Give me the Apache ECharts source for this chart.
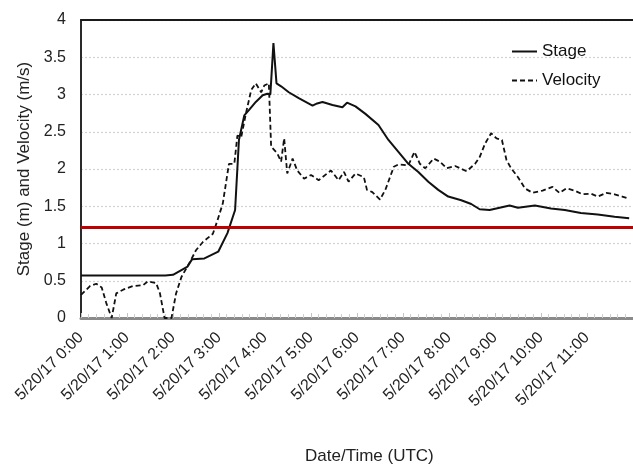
<!DOCTYPE html>
<html>
<head>
<meta charset="utf-8">
<script src="https://cdn.jsdelivr.net/npm/echarts@6/dist/echarts.min.js"></script>
<style>
  html, body { margin: 0; padding: 0; background: #fff; }
  #chart { width: 633px; height: 464px; }
</style>
</head>
<body>
<div id="chart"></div>
<script>
// Times are minutes after 5/20/17 0:00 UTC
const stageMinutes = [0, 60, 110, 120, 139, 145, 161, 179, 191, 201, 206, 213, 219, 228, 237, 243, 247, 251, 255, 261, 271, 284, 302, 308, 315, 328, 341, 347, 358, 371, 388, 401, 414, 427, 440, 453, 466, 479, 496, 509, 520, 533, 546, 559, 570, 592, 613, 631, 652, 674, 696, 715];
const stageValues  = [0.57, 0.57, 0.57, 0.58, 0.69, 0.79, 0.80, 0.89, 1.14, 1.45, 2.39, 2.72, 2.79, 2.90, 2.99, 3.01, 3.00, 3.69, 3.15, 3.11, 3.03, 2.95, 2.85, 2.88, 2.90, 2.86, 2.83, 2.89, 2.84, 2.74, 2.59, 2.39, 2.23, 2.07, 1.96, 1.83, 1.72, 1.63, 1.58, 1.53, 1.46, 1.45, 1.48, 1.51, 1.48, 1.51, 1.47, 1.45, 1.41, 1.39, 1.36, 1.34];

const velocityMinutes = [0, 12, 20, 27, 33, 40, 46, 55, 68, 81, 87, 98, 103, 109, 118, 124, 131, 142, 150, 159, 172, 178, 185, 193, 200, 204, 209, 215, 222, 228, 235, 239, 245, 248, 256, 261, 265, 269, 276, 282, 291, 300, 310, 326, 336, 343, 349, 358, 369, 373, 380, 390, 397, 408, 414, 427, 435, 442, 449, 460, 468, 477, 488, 503, 514, 520, 527, 535, 542, 549, 555, 561, 570, 579, 589, 602, 615, 624, 633, 644, 654, 665, 674, 685, 696, 706, 715];
const velocityValues  = [0.31, 0.43, 0.46, 0.41, 0.20, 0.0, 0.33, 0.38, 0.43, 0.44, 0.49, 0.47, 0.33, 0.0, 0.0, 0.33, 0.55, 0.75, 0.91, 1.02, 1.13, 1.31, 1.54, 2.07, 2.07, 2.45, 2.43, 2.74, 3.06, 3.15, 3.03, 3.12, 3.15, 2.30, 2.21, 2.10, 2.41, 1.94, 2.14, 1.98, 1.87, 1.92, 1.85, 1.98, 1.85, 1.96, 1.83, 1.94, 1.89, 1.72, 1.69, 1.59, 1.72, 2.03, 2.06, 2.05, 2.23, 2.07, 2.01, 2.14, 2.10, 2.01, 2.04, 1.97, 2.07, 2.16, 2.34, 2.48, 2.41, 2.39, 2.12, 2.01, 1.89, 1.74, 1.68, 1.71, 1.76, 1.68, 1.74, 1.71, 1.66, 1.67, 1.63, 1.68, 1.66, 1.63, 1.60];

const thresholdValue = 1.22;
const yTicks = [0, 0.5, 1, 1.5, 2, 2.5, 3, 3.5, 4];
const datePrefix = '5/20/17';

const zip = (xs, ys) => xs.map((x, i) => [x, ys[i]]);
const FONT = 'Liberation Sans, Arial, Helvetica, sans-serif';

const chart = echarts.init(document.getElementById('chart'), null, { renderer: 'canvas' });

chart.setOption({
  animation: false,
  backgroundColor: '#ffffff',
  textStyle: { fontFamily: FONT },
  grid: { left: 81, top: 20, width: 554.5, height: 298, containLabel: false },
  legend: {
    orient: 'vertical',
    left: 506,
    top: 38,
    itemWidth: 25,
    itemHeight: 14,
    itemGap: 12,
    itemStyle: { opacity: 0 },
    textStyle: { fontSize: 17, color: '#111', fontFamily: FONT },
    data: ['Stage', 'Velocity']
  },
  xAxis: [{
    type: 'value',
    min: 0,
    max: 720,
    interval: 60,
    position: 'bottom',
    axisLine: { show: true, lineStyle: { color: '#8a8a8a', width: 3 } },
    axisTick: { show: true, inside: true, length: 5, lineStyle: { color: '#c4c4c4', width: 1 } },
    minorTick: { show: true, splitNumber: 6, length: 4, lineStyle: { color: '#cfcfcf', width: 1 } },
    splitLine: { show: false },
    axisLabel: {
      rotate: 45,
      margin: 17,
      fontSize: 16,
      color: '#222',
      fontFamily: FONT,
      showMaxLabel: false,
      formatter: v => (v % 60 === 0 && v < 720) ? datePrefix + ' ' + (v / 60) + ':00' : ''
    }
  }, {
    type: 'value',
    min: 0,
    max: 720,
    position: 'top',
    axisLine: { show: true, onZero: false, lineStyle: { color: '#1a1a1a', width: 2 } },
    axisTick: { show: false },
    axisLabel: { show: false },
    splitLine: { show: false }
  }],
  yAxis: {
    type: 'value',
    min: yTicks[0],
    max: yTicks[yTicks.length - 1],
    interval: 0.5,
    name: 'Stage (m) and Velocity (m/s)',
    nameLocation: 'middle',
    nameGap: 42,
    nameTextStyle: { fontSize: 17, color: '#222', fontFamily: FONT },
    axisLine: { show: true, lineStyle: { color: '#2a2a2a', width: 2 } },
    axisTick: { show: false },
    axisLabel: { fontSize: 16, color: '#222', margin: 15, fontFamily: FONT },
    splitLine: {
      show: true,
      lineStyle: { color: '#d2d2d2', width: 1.2, type: [2, 2] }
    }
  },
  graphic: [{
    type: 'text',
    left: 305,
    top: 448,
    style: { text: 'Date/Time (UTC)', font: '17px ' + FONT, fill: '#222' }
  }],
  series: [{
    name: 'Stage',
    type: 'line',
    symbol: 'none',
    data: zip(stageMinutes, stageValues),
    lineStyle: { color: '#111', width: 2 },
    itemStyle: { color: '#111' },
    z: 3,
    markLine: {
      silent: true,
      symbol: 'none',
      label: { show: false },
      lineStyle: { color: '#c00000', width: 3, type: 'solid' },
      data: [{ yAxis: thresholdValue }]
    }
  }, {
    name: 'Velocity',
    type: 'line',
    symbol: 'none',
    data: zip(velocityMinutes, velocityValues),
    lineStyle: { color: '#111', width: 1.8, type: [5, 3] },
    itemStyle: { color: '#111' },
    z: 2
  }]
});
</script>
</body>
</html>
